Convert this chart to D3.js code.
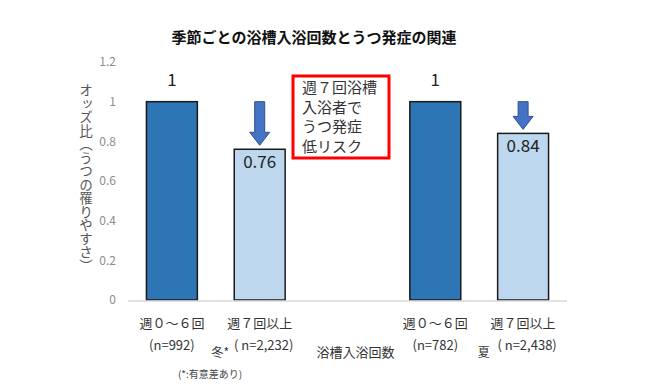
<!DOCTYPE html>
<html>
<head>
<meta charset="utf-8">
<script src="https://cdn.jsdelivr.net/npm/d3@7"></script>
<style>
  body { margin: 0; background: #fff; }
  text { font-family: "Noto Sans CJK JP", "Noto Sans", sans-serif; }
</style>
</head>
<body>
<svg id="chart" width="650" height="388"></svg>
<script>
// 値は図から読み取り
var slots = ["w_low", "w_high", "gap", "s_low", "s_high"];
var freqLabels = ["週０～６回", "週７回以上", "", "週０～６回", "週７回以上"];
var sizeLabels = ["(n=992)", "( n=2,232)", "", "(n=782)", "( n=2,438)"];
var oddsRatios = [1, 0.76, null, 1, 0.84];
var yTicks = [0, 0.2, 0.4, 0.6, 0.8, 1, 1.2];
var seasons = ["冬*", "夏"];

var svg = d3.select("#chart");

var x = d3.scaleBand()
    .domain(slots)
    .range([128, 567])
    .paddingInner(0.42)
    .paddingOuter(0.21);

var y = d3.scaleLinear()
    .domain([0, 1.2])
    .range([300, 62]);

// タイトル
svg.append("text")
    .attr("x", 314).attr("y", 43)
    .attr("text-anchor", "middle")
    .attr("font-size", 15).attr("font-weight", "bold")
    .attr("fill", "#111")
    .text("季節ごとの浴槽入浴回数とうつ発症の関連");

// y軸
var yAxis = svg.append("g")
    .attr("transform", "translate(128,0)")
    .call(d3.axisLeft(y).tickValues(yTicks).tickSize(0).tickPadding(12)
        .tickFormat(function(d){ return d; }));
yAxis.select(".domain").remove();
yAxis.selectAll("text").attr("font-size", 12).attr("fill", "#8c8c8c");

svg.append("text")
    .attr("x", 86).attr("y", 178)
    .attr("text-anchor", "middle")
    .attr("font-size", 13.5).attr("fill", "#555")
    .style("writing-mode", "vertical-rl")
    .text("オッズ比（うつの罹りやすさ）");

// 棒
var rows = slots.map(function(s, i){
    return {slot: s, value: oddsRatios[i], freq: freqLabels[i], size: sizeLabels[i]};
});
var bars = rows.filter(function(d){ return d.value !== null; });

svg.selectAll("rect.bar")
    .data(bars)
    .enter().append("rect")
    .attr("class", "bar")
    .attr("x", function(d){ return x(d.slot); })
    .attr("y", function(d){ return y(d.value); })
    .attr("width", x.bandwidth())
    .attr("height", function(d){ return y(0) - y(d.value); })
    .attr("fill", function(d){ return d.value === 1 ? "#2e75b6" : "#bdd7ee"; })
    .attr("stroke", "#1a1a1a")
    .attr("stroke-width", 1.5);

// ベースライン
svg.append("line")
    .attr("x1", 128).attr("x2", 567)
    .attr("y1", y(0) + 1).attr("y2", y(0) + 1)
    .attr("stroke", "#d9d9d9").attr("stroke-width", 1.5);

// 値ラベル
svg.selectAll("text.val")
    .data(bars)
    .enter().append("text")
    .attr("class", "val")
    .attr("x", function(d){ return x(d.slot) + x.bandwidth() / 2; })
    .attr("y", function(d){ return d.value === 1 ? y(d.value) - 16 : y(d.value) + 19; })
    .attr("text-anchor", "middle")
    .attr("font-size", 17).attr("fill", "#222")
    .text(function(d){ return d.value; });

// 矢印
var arrowPath = function(d){
    var cx = x(d.slot) + x.bandwidth() / 2,
        top = y(1),
        tip = y(d.value) - 4,
        head = tip - 13;
    return "M" + (cx - 5) + "," + top + "H" + (cx + 5) + "V" + head +
        "H" + (cx + 10) + "L" + cx + "," + tip + "L" + (cx - 10) + "," + head +
        "H" + (cx - 5) + "Z";
};
svg.selectAll("path.arrow")
    .data(bars.filter(function(d){ return d.value < 1; }))
    .enter().append("path")
    .attr("class", "arrow")
    .attr("d", arrowPath)
    .attr("fill", "#4472c4")
    .attr("stroke", "#2f528f").attr("stroke-width", 1);

// 注釈ボックス
svg.append("rect")
    .attr("x", 293).attr("y", 76)
    .attr("width", 96).attr("height", 82)
    .attr("fill", "#fff")
    .attr("stroke", "#ff0000").attr("stroke-width", 3);
var note = ["週７回浴槽", "入浴者で", "うつ発症", "低リスク"];
svg.selectAll("text.note")
    .data(note)
    .enter().append("text")
    .attr("class", "note")
    .attr("x", 302)
    .attr("y", function(d, i){ return 93 + i * 19.5; })
    .attr("font-size", 15).attr("fill", "#333")
    .text(function(d){ return d; });

// x軸ラベル
var xl = svg.append("g");
xl.selectAll("text.freq")
    .data(bars)
    .enter().append("text")
    .attr("class", "freq")
    .attr("x", function(d){ return x(d.slot) + x.bandwidth() / 2; })
    .attr("y", 328)
    .attr("text-anchor", "middle")
    .attr("font-size", 13).attr("fill", "#333")
    .text(function(d){ return d.freq; });
xl.selectAll("text.size")
    .data(bars)
    .enter().append("text")
    .attr("class", "size")
    .attr("x", function(d){ return x(d.slot) + x.bandwidth() / 2 + (d.value < 1 ? 4 : 0); })
    .attr("y", 350)
    .attr("text-anchor", "middle")
    .attr("font-size", 13).attr("fill", "#333")
    .text(function(d){ return d.size; });

svg.selectAll("text.season")
    .data(seasons)
    .enter().append("text")
    .attr("class", "season")
    .attr("x", function(d, i){ return (i === 0 ? x("w_high") : x("s_high")) - 14; })
    .attr("y", 357)
    .attr("text-anchor", "middle")
    .attr("font-size", 12).attr("fill", "#333")
    .text(function(d){ return d; });

svg.append("text")
    .attr("x", x("gap") + x.bandwidth() / 2 + 8).attr("y", 357)
    .attr("text-anchor", "middle")
    .attr("font-size", 13).attr("fill", "#333")
    .text("浴槽入浴回数");

svg.append("text")
    .attr("x", 210).attr("y", 378)
    .attr("text-anchor", "middle")
    .attr("font-size", 10).attr("fill", "#444")
    .text("(*:有意差あり)");
</script>
</body>
</html>
